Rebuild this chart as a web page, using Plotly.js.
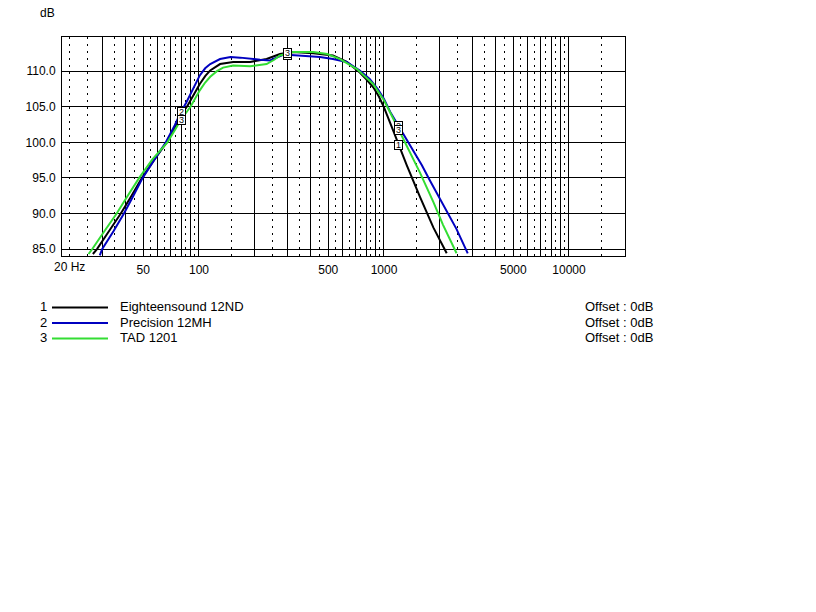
<!DOCTYPE html>
<html>
<head>
<meta charset="utf-8">
<script src="https://cdn.plot.ly/plotly-3.0.1.min.js"></script>
<style>
  html, body { margin: 0; padding: 0; background: #ffffff; }
  #chart { width: 816px; height: 612px; }
</style>
</head>
<body>
<div id="chart"></div>
<script>
// ---------- data ----------
const seriesNames = ['Eighteensound 12ND', 'Precision 12MH', 'TAD 1201'];
const seriesNumbers = ['1', '2', '3'];
const seriesOffsets = ['Offset : 0dB', 'Offset : 0dB', 'Offset : 0dB'];

const freqEighteen = [26.7, 28.1, 32.6, 37.8, 43.2, 49.2, 57.5, 67, 74, 80, 87, 94, 101, 108, 115, 130, 153, 189, 232, 274, 300, 322, 415, 530, 630, 740, 800, 877, 940, 1000, 1100, 1200, 1327, 1567, 1850, 2183];
const dbEighteen   = [84.3, 85.0, 87.5, 90.0, 92.5, 95.0, 97.6, 100.0, 102.0, 103.8, 105.2, 106.8, 108.2, 109.3, 110.1, 111.0, 111.3, 111.3, 111.7, 112.4, 112.6, 112.7, 112.5, 112.2, 111.3, 109.8, 108.9, 107.7, 106.4, 104.9, 102.2, 99.6, 96.8, 92.3, 88.0, 84.4];

const freqPrecision = [29.1, 30.0, 34.5, 39.3, 44.2, 49.6, 57.5, 66.2, 74, 80, 85, 92, 101, 108, 115, 130, 148, 167, 190, 214, 242, 265, 285, 300, 351, 451, 530, 628, 740, 837, 930, 1000, 1089, 1200, 1271, 1440, 1600, 1774, 2085, 2467, 2836];
const dbPrecision   = [84.1, 85.0, 87.5, 90.0, 92.5, 95.0, 97.6, 100.0, 102.4, 104.3, 105.5, 107.2, 109.4, 110.4, 111.0, 111.7, 112.0, 111.9, 111.7, 111.6, 111.5, 111.9, 112.3, 112.3, 112.2, 112.0, 111.7, 111.3, 110.1, 108.9, 107.4, 106.1, 104.1, 102.3, 101.2, 98.9, 96.8, 94.6, 91.3, 87.8, 84.4];

const freqTAD = [25.3, 26.5, 30.8, 35.9, 41.2, 47.5, 56, 67.5, 74, 80, 90, 101, 108, 115, 125, 135, 153, 189, 232, 255, 274, 300, 322, 415, 493, 579, 714, 873, 1000, 1123, 1200, 1327, 1567, 1850, 2085, 2467];
const dbTAD   = [84.3, 85.0, 87.5, 90.0, 92.5, 95.0, 97.6, 100.0, 101.7, 103.2, 105.0, 107.3, 108.4, 109.2, 110.0, 110.5, 110.8, 110.7, 111.0, 111.6, 112.2, 112.5, 112.7, 112.7, 112.4, 111.7, 110.3, 108.2, 105.9, 103.3, 101.8, 99.6, 95.7, 91.6, 88.4, 84.4];

const markerFreqs = [80, 300, 1200];

const xLabelVals = [50, 100, 500, 1000, 5000, 10000];
const xLabelText = ['50', '100', '500', '1000', '5000', '10000'];
const xFirstLabel = {value: 20, text: '20 Hz'};
const xSolidGrid = [30, 40, 60, 70, 80, 90, 200, 300, 400, 600, 700, 800, 900, 2000, 3000, 4000, 6000, 7000, 8000, 9000];
const xDottedGrid = [20, 25, 35, 45, 55, 65, 75, 85, 95, 150, 250, 350, 450, 550, 650, 750, 850, 950, 1500, 2500, 3500, 4500, 5500, 6500, 7500, 8500, 9500, 15000];
const yTickVals = [85, 90, 95, 100, 105, 110];

// ---------- styling ----------
const colors = ['#000000', '#0000c0', '#33dd33'];
const FONT = 'Arial, "Liberation Sans", sans-serif';
const L = 62, R = 625, T = 37, B = 256;
const W = 816, H = 612;
const px2paperX = px => (px - L) / (R - L);
const px2paperY = py => (B - py) / (B - T);

const freqs = [freqEighteen, freqPrecision, freqTAD];
const dbs = [dbEighteen, dbPrecision, dbTAD];

const traces = freqs.map((f, i) => ({
  type: 'scatter', mode: 'lines',
  x: f, y: dbs[i], name: seriesNames[i],
  line: {color: colors[i], width: 2, shape: 'linear'},
  showlegend: false, hoverinfo: 'skip'
}));

const annotations = [];
const shapes = [];

// curve markers (numbered boxes)
freqs.forEach((f, i) => {
  markerFreqs.forEach(mf => {
    const idx = f.indexOf(mf);
    if (idx < 0) return;
    annotations.push({
      x: Math.log10(f[idx]), y: dbs[i][idx], xref: 'x', yref: 'y',
      text: seriesNumbers[i], showarrow: false,
      font: {family: FONT, size: 9, color: '#000'},
      bgcolor: '#ffffff', bordercolor: '#000000', borderwidth: 1, borderpad: 0,
      width: 7, height: 8
    });
  });
});

// first x label "20 Hz"
annotations.push({
  x: Math.log10(xFirstLabel.value), xref: 'x', y: px2paperY(267), yref: 'paper',
  text: xFirstLabel.text, showarrow: false, xanchor: 'center', yanchor: 'middle',
  font: {family: FONT, size: 12, color: '#000'}
});
// y unit
annotations.push({
  x: px2paperX(47), y: px2paperY(13), xref: 'paper', yref: 'paper',
  text: 'dB', showarrow: false, xanchor: 'center', yanchor: 'middle',
  font: {family: FONT, size: 12, color: '#000'}
});

// legend block
const rowY = [306.5, 322, 337.5];
seriesNames.forEach((name, i) => {
  annotations.push({x: px2paperX(43), y: px2paperY(rowY[i]), xref: 'paper', yref: 'paper',
    text: seriesNumbers[i], showarrow: false, xanchor: 'center', yanchor: 'middle',
    font: {family: FONT, size: 13, color: '#000'}});
  annotations.push({x: px2paperX(118), y: px2paperY(rowY[i]), xref: 'paper', yref: 'paper',
    text: name, showarrow: false, xanchor: 'left', yanchor: 'middle',
    font: {family: FONT, size: 13, color: '#000'}});
  annotations.push({x: px2paperX(583), y: px2paperY(rowY[i]), xref: 'paper', yref: 'paper',
    text: seriesOffsets[i], showarrow: false, xanchor: 'left', yanchor: 'middle',
    font: {family: FONT, size: 13, color: '#000'}});
  shapes.push({type: 'line', xref: 'paper', yref: 'paper',
    x0: px2paperX(52), x1: px2paperX(108), y0: px2paperY(rowY[i] + 1), y1: px2paperY(rowY[i] + 1),
    line: {color: colors[i], width: 2}});
});

const layout = {
  width: W, height: H,
  margin: {l: L, r: W - R, t: T, b: H - B, pad: 0},
  paper_bgcolor: '#ffffff', plot_bgcolor: '#ffffff',
  font: {family: FONT, size: 12, color: '#000'},
  showlegend: false,
  xaxis: {
    type: 'log',
    range: [Math.log10(18.18), Math.log10(20080)],
    tickmode: 'array', tickvals: xLabelVals.concat(xSolidGrid),
    ticktext: xLabelText.concat(xSolidGrid.map(() => '')),
    showgrid: true, gridcolor: '#000000', gridwidth: 1,
    minor: {tickmode: 'array', tickvals: xDottedGrid, showgrid: true,
            gridcolor: '#000000', gridwidth: 1, griddash: '2px,5px', ticks: ''},
    showline: true, mirror: true, linecolor: '#000000', linewidth: 1,
    ticks: 'outside', ticklen: 3, tickcolor: 'rgba(0,0,0,0)',
    tickfont: {family: FONT, size: 12, color: '#000'},
    zeroline: false, fixedrange: true
  },
  yaxis: {
    range: [84.02, 114.8],
    tickmode: 'array', tickvals: yTickVals, tickformat: '.1f',
    showgrid: true, gridcolor: '#000000', gridwidth: 1,
    showline: true, mirror: true, linecolor: '#000000', linewidth: 1,
    ticks: 'outside', ticklen: 3, tickcolor: 'rgba(0,0,0,0)',
    tickfont: {family: FONT, size: 12, color: '#000'},
    zeroline: false, fixedrange: true
  },
  annotations: annotations,
  shapes: shapes
};

Plotly.newPlot('chart', traces, layout, {staticPlot: true, displayModeBar: false});
</script>
</body>
</html>
